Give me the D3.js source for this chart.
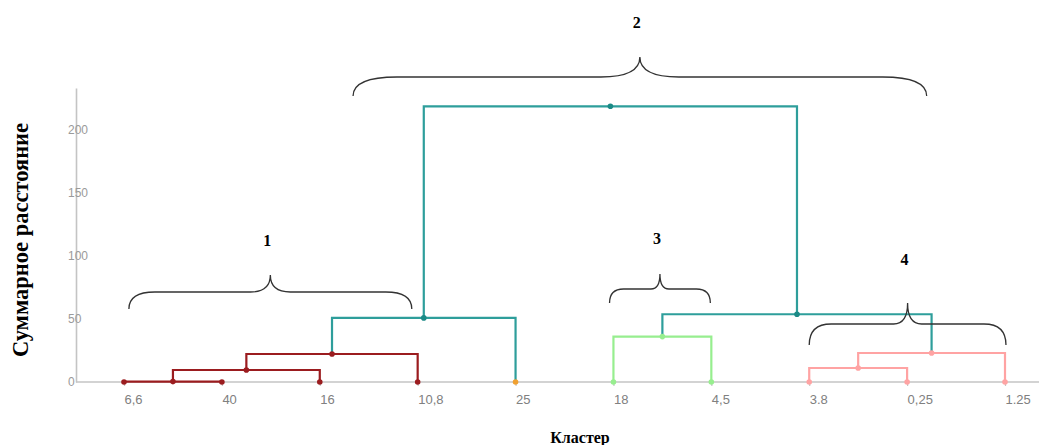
<!DOCTYPE html>
<html>
<head>
<meta charset="utf-8">
<script src="https://cdn.jsdelivr.net/npm/d3@7"></script>
<style>
  html, body { margin: 0; padding: 0; background: #fff; }
  svg { display: block; }
</style>
</head>
<body>
<svg id="chart" width="1039" height="445"></svg>
<script>
// ---- DATA ----
const leaves = ["6,6", "40", "16", "10,8", "25", "18", "4,5", "3.8", "0,25", "1.25"];
// leaf cluster membership (1..4, 0 = singleton 25)
const leafGroup = [1, 1, 1, 1, 0, 3, 3, 4, 4, 4];
// merges: node ids 0..9 are leaves, merges get ids 10.. in order
const mergeLeft   = [0, 10, 11, 12, 5, 7, 15, 14, 13];
const mergeRight  = [1, 2, 3, 4, 6, 8, 9, 16, 17];
const mergeHeight = [0.3, 9.5, 22.2, 50.8, 36, 11.1, 23, 53.7, 218.5];
const mergeGroup  = [1, 1, 1, 2, 3, 4, 4, 2, 2];
const yTicks = [0, 50, 100, 150, 200];
const braceLabels = ["1", "2", "3", "4"];
const braceFrom   = [0.05, 2.34, 4.96, 7.0];   // leaf-index span
const braceTo     = [2.94, 8.2, 5.99, 9.01];

// ---- STYLE / LAYOUT ----
const groupColor = {0: "#f0a030", 1: "#9b1c1f", 2: "#2e9e9b", 3: "#97ee8f", 4: "#ffa3a3"};
const braceStyle = [ // yEnd(px), hMid, hTip, rEnd, rMid, labelY
  {yEnd: 309, hMid: 17, hTip: 34, rEnd: 26, rMid: 20, ly: 240},
  {yEnd: 96,  hMid: 19, hTip: 39, rEnd: 44, rMid: 39, ly: 22},
  {yEnd: 303, hMid: 14, hTip: 29, rEnd: 14, rMid: 9,  ly: 238.5},
  {yEnd: 345, hMid: 21, hTip: 42, rEnd: 22, rMid: 14, ly: 259}
];

const svg = d3.select("#chart");
const axisX0 = 76;

const x = d3.scalePoint().domain(leaves).range([124, 1005]).padding(0);
const xi = d3.scaleLinear().domain([0, leaves.length - 1]).range([124, 1005]);
const y = d3.scaleLinear().domain([0, 233]).range([382, 88]);

// node positions
const nodes = leaves.map((l, i) => ({x: x(l), h: 0, group: leafGroup[i], leaf: true}));
mergeLeft.forEach((a, k) => {
  const b = mergeRight[k];
  nodes.push({x: (nodes[a].x + nodes[b].x) / 2, h: mergeHeight[k], group: mergeGroup[k], a, b, leaf: false});
});

// ---- AXES ----
const yAxis = d3.axisLeft(y).tickValues(yTicks).tickSize(0).tickSizeOuter(0).tickPadding(0);
const gy = svg.append("g").attr("transform", `translate(${axisX0},0)`).call(yAxis);
gy.select(".domain").attr("stroke", "#c4c4c4").attr("stroke-width", 1.6);
gy.selectAll(".tick text")
  .attr("x", -8).attr("text-anchor", "start")
  .attr("fill", "#9a9a9a").style("font-family", "Liberation Sans, Arial, sans-serif").style("font-size", "12px");

// x baseline
svg.append("line").attr("x1", axisX0).attr("x2", 1039).attr("y1", y(0)).attr("y2", y(0))
  .attr("stroke", "#c4c4c4").attr("stroke-width", 1.6);
const xAxis = d3.axisBottom(x).tickSize(4).tickSizeOuter(0).tickPadding(0);
const gx = svg.append("g").attr("transform", `translate(0,${y(0)})`).call(xAxis);
gx.select(".domain").remove();
gx.selectAll(".tick line").attr("stroke", "#c4c4c4").attr("stroke-width", 1.2);
gx.selectAll(".tick text")
  .attr("y", 22).attr("dy", 0).attr("text-anchor", "start")
  .attr("fill", "#808080").style("font-family", "Liberation Sans, Arial, sans-serif").style("font-size", "13px");

// ---- LINKS ----
const linkG = svg.append("g").attr("fill", "none").attr("stroke-width", 2.2);
nodes.forEach(n => {
  if (n.leaf) return;
  const A = nodes[n.a], B = nodes[n.b];
  const p = d3.path();
  p.moveTo(A.x, y(A.h));
  p.lineTo(A.x, y(n.h));
  p.lineTo(B.x, y(n.h));
  p.lineTo(B.x, y(B.h));
  linkG.append("path").attr("d", p.toString()).attr("stroke", groupColor[n.group]);
});

// ---- DOTS ----
svg.append("g").selectAll("circle").data(nodes).join("circle")
  .attr("cx", d => d.x).attr("cy", d => y(d.h)).attr("r", 2.8)
  .attr("fill", d => d.group === 2 ? "#1b8a86" : groupColor[d.group]);

// ---- BRACES ----
const braceG = svg.append("g");
braceLabels.forEach((lab, i) => {
  const s = braceStyle[i];
  const x0 = xi(braceFrom[i]), x1 = xi(braceTo[i]), xm = (x0 + x1) / 2;
  const yM = s.yEnd - s.hMid, yT = s.yEnd - s.hTip;
  const p = d3.path();
  p.moveTo(x0, s.yEnd);
  p.quadraticCurveTo(x0, yM, x0 + s.rEnd, yM);
  p.lineTo(xm - s.rMid, yM);
  p.quadraticCurveTo(xm, yM, xm, yT);
  p.quadraticCurveTo(xm, yM, xm + s.rMid, yM);
  p.lineTo(x1 - s.rEnd, yM);
  p.quadraticCurveTo(x1, yM, x1, s.yEnd);
  braceG.append("path").attr("d", p.toString()).attr("fill", "none")
    .attr("stroke", "#333").attr("stroke-width", 1.3);
  braceG.append("text").attr("x", xm - 3).attr("y", s.ly).attr("dy", "0.35em")
    .attr("text-anchor", "middle")
    .style("font-family", "Liberation Serif, Times New Roman, serif").style("font-weight", "bold")
    .style("font-size", "16px").attr("fill", "#000").text(lab);
});

// ---- TITLES ----
svg.append("text").attr("transform", "translate(28,240) rotate(-90)")
  .attr("text-anchor", "middle")
  .style("font-family", "Liberation Serif, Times New Roman, serif").style("font-weight", "bold")
  .style("font-size", "22.5px").attr("fill", "#000").text("Суммарное расстояние");
svg.append("text").attr("x", 580).attr("y", 443).attr("text-anchor", "middle")
  .style("font-family", "Liberation Serif, Times New Roman, serif").style("font-weight", "bold")
  .style("font-size", "16px").attr("fill", "#000").text("Кластер");
</script>
</body>
</html>
